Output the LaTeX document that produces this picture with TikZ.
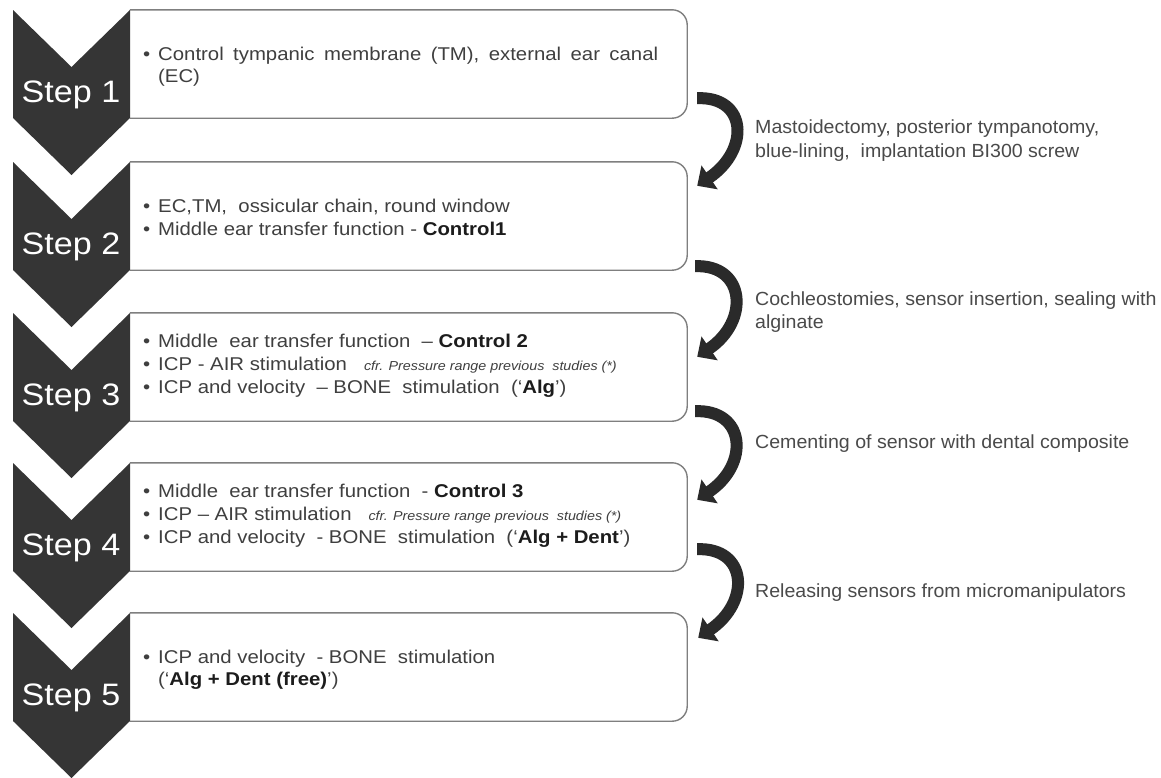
\documentclass[tikz,border=0pt]{standalone}
\usepackage{fontspec}
\setmainfont{Liberation Sans}[FakeStretch=1.1]
\newfontfamily\sidefont{Liberation Sans}[FakeStretch=1.03]
\usetikzlibrary{arrows.meta}
\definecolor{chev}{HTML}{353535}
\definecolor{boxln}{HTML}{7F7F7F}
\definecolor{txt}{HTML}{3F3F3F}
\definecolor{txtb}{HTML}{1C1C1C}
\definecolor{arr}{HTML}{2A2A2A}
\definecolor{sidetxt}{HTML}{4A4A4A}
\newcommand\bul{\makebox[15pt][l]{•}}
\newcommand\bb[1]{\textbf{\color{txtb}#1}}
\newcommand\smit[1]{{\fontsize{13}{15}\selectfont\itshape #1}}
\tikzset{
  boxarea/.style={minimum width=557pt, minimum height=108pt, inner sep=0pt, draw=none},
  boxline/.style={draw=boxln, line width=1.4pt, rounded corners=15pt},
  chevfill/.style={fill=chev},
  steptxt/.style={text=white, font=\fontsize{31}{31}\selectfont, anchor=base, inner sep=0pt},
  bt/.style={anchor=base west, inner sep=0pt, text=txt, font=\fontsize{18.5}{22}\selectfont},
  st/.style={anchor=base west, inner sep=0pt, text=sidetxt, font=\sidefont\fontsize{19}{23}\selectfont},
  curvarrow/.style={draw=arr, line width=12pt, -{Triangle[length=15pt,width=28pt]}},
}
\begin{document}
\begin{tikzpicture}[x=1pt,y=-1pt]
\useasboundingbox (0,0) rectangle (1161,777);
\fill[white] (0,0) rectangle (1161,777);

\foreach \i/\T in {1/10,2/162,3/313,4/463,5/613}{
  \node[boxarea] (b\i) at (408.5,\T+54) {};
  \draw[boxline] (b\i.north west) -- (b\i.north east) -- (b\i.south east) -- (b\i.south west);
  \fill[chevfill] (13,\T) -- (71.5,\T+57) -- (130,\T) -- (130,\T+108) -- (71.5,\T+165) -- (13,\T+108) -- cycle;
  \node[steptxt] (s\i) at (71,\T+92) {Step \i};
}

% Box 1
\node[bt] (t11) at (143,60) {\bul\makebox[500pt][s]{Control tympanic membrane (TM), external ear canal}};
\node[bt] (t12) at (158,82) {(EC)};
% Box 2
\node[bt] (t21) at (143,212) {\bul EC,TM,\ \ ossicular chain, round window};
\node[bt] (t22) at (143,235) {\bul Middle ear transfer function - \bb{Control1}};
% Box 3
\node[bt] (t31) at (143,347) {\bul Middle\ \ ear transfer function\ \ – \bb{Control 2}};
\node[bt] (t32) at (143,370) {\bul ICP - AIR stimulation\ \ \ \smit{cfr. Pressure range previous\ \ studies (*)}};
\node[bt] (t33) at (143,393) {\bul ICP and velocity\ \ – BONE\ \ stimulation\ \ (‘\bb{Alg}’)};
% Box 4
\node[bt] (t41) at (143,497) {\bul Middle\ \ ear transfer function\ \ - \bb{Control 3}};
\node[bt] (t42) at (143,520) {\bul ICP – AIR stimulation\ \ \ \smit{cfr. Pressure range previous\ \ studies (*)}};
\node[bt] (t43) at (143,543) {\bul ICP and velocity\ \ - BONE\ \ stimulation\ \ (‘\bb{Alg + Dent}’)};
% Box 5
\node[bt] (t51) at (143,663) {\bul ICP and velocity\ \ - BONE\ \ stimulation};
\node[bt] (t52) at (158,685) {(‘\bb{Alg + Dent (free)}’)};

% Curved arrows
\coordinate (a1s) at ([shift={(10,-20)}]b1.south east);
\coordinate (a1e) at ([shift={(10,24)}]b2.north east);
\coordinate (a2s) at ([shift={(8,-4)}]b2.south east);
\coordinate (a2e) at ([shift={(10,44)}]b3.north east);
\coordinate (a3s) at ([shift={(8,-10)}]b3.south east);
\coordinate (a3e) at ([shift={(10,37)}]b4.north east);
\coordinate (a4s) at ([shift={(10,-22)}]b4.south east);
\coordinate (a4e) at ([shift={(11,25)}]b5.north east);
\foreach \k in {1,2,3,4}{
  \draw[curvarrow] (a\k s) .. controls +(50,-2) and +(53,-36) .. (a\k e);
}

% Side texts
\node[st] (m1) at (755,133) {Mastoidectomy, posterior tympanotomy,};
\node[st] (m2) at (755,157) {blue-lining,\ \ implantation BI300 screw};
\node[st] (c1) at (755,305) {Cochleostomies, sensor insertion, sealing with};
\node[st] (c2) at (755,328) {alginate};
\node[st] (d1) at (755,448) {Cementing of sensor with dental composite};
\node[st] (r1) at (755,597) {Releasing sensors from micromanipulators};
\end{tikzpicture}
\end{document}
